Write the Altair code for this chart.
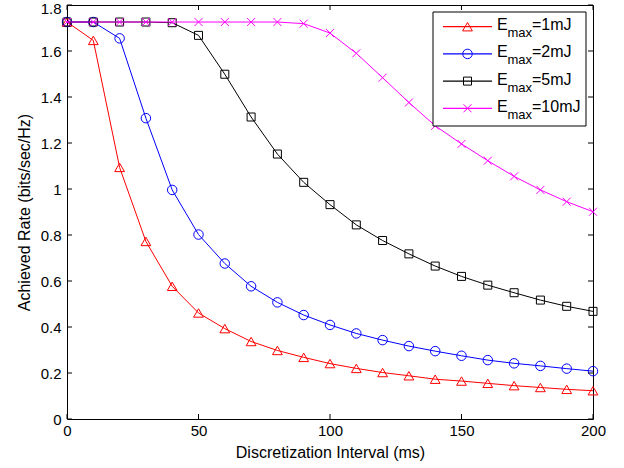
import altair as alt
import pandas as pd

# ---- data ----
x_ms = [0, 10, 20, 30, 40, 50, 60, 70, 80, 90, 100,
        110, 120, 130, 140, 150, 160, 170, 180, 190, 200]

rate_1mJ = [1.726, 1.646, 1.094, 0.772, 0.577, 0.461, 0.393, 0.337, 0.298, 0.268, 0.241,
            0.220, 0.202, 0.188, 0.173, 0.165, 0.155, 0.145, 0.137, 0.129, 0.123]
rate_2mJ = [1.726, 1.726, 1.655, 1.308, 0.996, 0.802, 0.676, 0.577, 0.507, 0.452, 0.409,
            0.372, 0.343, 0.317, 0.295, 0.275, 0.256, 0.242, 0.231, 0.219, 0.208]
rate_5mJ = [1.726, 1.726, 1.726, 1.726, 1.723, 1.668, 1.499, 1.313, 1.152, 1.029, 0.932,
            0.844, 0.776, 0.718, 0.665, 0.620, 0.582, 0.549, 0.517, 0.490, 0.468]
rate_10mJ = [1.726, 1.726, 1.726, 1.726, 1.726, 1.726, 1.726, 1.726, 1.726, 1.719, 1.678,
             1.590, 1.484, 1.376, 1.275, 1.196, 1.123, 1.055, 0.996, 0.945, 0.901]

series_names = ["1mJ", "2mJ", "5mJ", "10mJ"]
series_values = [rate_1mJ, rate_2mJ, rate_5mJ, rate_10mJ]
series_colors = ["#FF0000", "#0000FF", "#000000", "#FF00FF"]
series_shapes = ["triangle-up", "circle", "square", "M-1,-1L1,1M-1,1L1,-1"]
series_sizes = [95, 90, 64, 64]

x_ticks = [0, 50, 100, 150, 200]
y_ticks = [0, 0.2, 0.4, 0.6, 0.8, 1.0, 1.2, 1.4, 1.6, 1.8]

W, H = 526, 414
FONT = "Liberation Sans"

xscale = alt.Scale(domain=[0, 200], nice=False, zero=False)
yscale = alt.Scale(domain=[0, 1.8], nice=False, zero=False)
xaxis = alt.Axis(values=x_ticks, title="Discretization Interval (ms)", labelFlush=False)
yaxis = alt.Axis(values=y_ticks, format="~g", title="Achieved Rate (bits/sec/Hz)",
                 labelOffset={"condition": {"test": "datum.value > 1.79", "value": 3}, "value": 0})


def X():
    return alt.X("x:Q", scale=xscale, axis=xaxis)


def Y():
    return alt.Y("y:Q", scale=yscale, axis=yaxis)


layers = []
for i, (name, vals) in enumerate(zip(series_names, series_values)):
    df = pd.DataFrame({"x": x_ms, "y": vals})
    line = alt.Chart(df).mark_line(color=series_colors[i], strokeWidth=1).encode(x=X(), y=Y())
    pts = alt.Chart(df).mark_point(
        shape=series_shapes[i], size=series_sizes[i], filled=False,
        color=series_colors[i], strokeWidth=1, opacity=1
    ).encode(x=X(), y=Y())
    layers += [line, pts]

# inward tick marks on all four sides
xt = pd.DataFrame({"x": x_ticks})
yt = pd.DataFrame({"y": y_ticks})
TL = 5
layers.append(alt.Chart(xt).mark_rule(color="black", strokeWidth=1).encode(
    x=X(), y=alt.value(H), y2=alt.value(H - TL)))
layers.append(alt.Chart(xt).mark_rule(color="black", strokeWidth=1).encode(
    x=X(), y=alt.value(0), y2=alt.value(TL)))
layers.append(alt.Chart(yt).mark_rule(color="black", strokeWidth=1).encode(
    y=Y(), x=alt.value(0), x2=alt.value(TL)))
layers.append(alt.Chart(yt).mark_rule(color="black", strokeWidth=1).encode(
    y=Y(), x=alt.value(W), x2=alt.value(W - TL)))

# legend box with subscripted labels
one = alt.Data(values=[{"a": 1}])
LX0, LX1, LY0, LY1 = 366, 519, 7, 121
layers.append(alt.Chart(one).mark_rect(fill="white", stroke="black", strokeWidth=1).encode(
    x=alt.value(LX0), x2=alt.value(LX1), y=alt.value(LY0), y2=alt.value(LY1)))
for i, name in enumerate(series_names):
    cy = 21.7 + i * 27.2
    layers.append(alt.Chart(one).mark_rule(color=series_colors[i], strokeWidth=1.2).encode(
        x=alt.value(376), x2=alt.value(425), y=alt.value(cy)))
    layers.append(alt.Chart(one).mark_point(
        shape=series_shapes[i], size=series_sizes[i], filled=False,
        color=series_colors[i], strokeWidth=1, opacity=1).encode(
        x=alt.value(400.5), y=alt.value(cy)))
    layers.append(alt.Chart(one).mark_text(
        align="left", baseline="alphabetic", font=FONT, fontSize=16, color="black").encode(
        x=alt.value(430), y=alt.value(cy + 3.5), text=alt.value("E")))
    layers.append(alt.Chart(one).mark_text(
        align="left", baseline="alphabetic", font=FONT, fontSize=13, color="black").encode(
        x=alt.value(440.5), y=alt.value(cy + 10.5), text=alt.value("max")))
    layers.append(alt.Chart(one).mark_text(
        align="left", baseline="alphabetic", font=FONT, fontSize=16, color="black").encode(
        x=alt.value(465), y=alt.value(cy + 3.5), text=alt.value("=" + name)))

chart = alt.layer(*layers).properties(
    width=W, height=H,
    padding={"left": 67, "top": 5, "right": 31, "bottom": 49},
    autosize=alt.AutoSizeParams(type="none"),
    background="white",
).configure_view(
    stroke="black", strokeWidth=1
).configure_axis(
    domain=False, ticks=False, tickSize=0, grid=False,
    labelFont=FONT, labelFontSize=15, labelColor="black", labelPadding=6,
    titleFont=FONT, titleFontSize=16, titleFontWeight="normal", titleColor="black",
).configure_axisX(
    titlePadding=6, labelPadding=4
).configure_axisY(
    titlePadding=8
)

chart.save("out.html", embed_options={"renderer": "svg", "actions": False})
